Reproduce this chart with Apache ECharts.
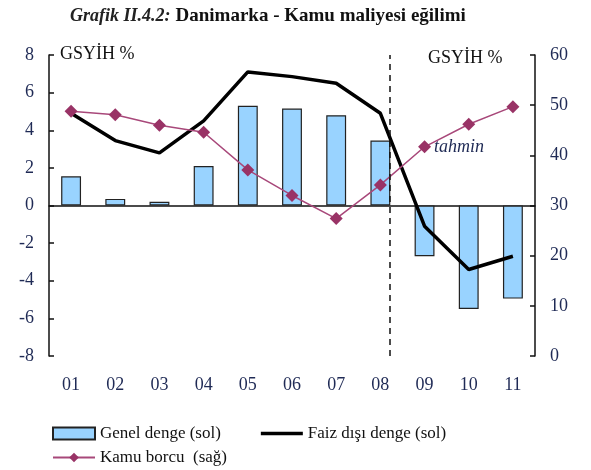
<!DOCTYPE html>
<html>
<head>
<meta charset="utf-8">
<script src="https://cdn.jsdelivr.net/npm/echarts@6/dist/echarts.min.js"></script>
<style>
  html, body { margin: 0; padding: 0; background: #fff; }
  #chart { width: 591px; height: 470px; }
</style>
</head>
<body>
<div id="chart"></div>
<script>
// veriler
const years = ['01', '02', '03', '04', '05', '06', '07', '08', '09', '10', '11'];
const genelDenge = [1.55, 0.35, 0.2, 2.1, 5.3, 5.15, 4.8, 3.45, -2.7, -5.5, -4.95];
const faizDisiDenge = [4.9, 3.45, 2.8, 4.5, 7.1, 6.85, 6.5, 4.9, -1.1, -3.4, -2.7];
const kamuBorcu = [48.8, 48.1, 46.0, 44.6, 37.1, 32.0, 27.4, 34.1, 41.7, 46.2, 49.7];
const leftTicks = { min: -8, max: 8, interval: 2 };
const rightTicks = { min: 0, max: 60, interval: 10 };
const forecastStart = 7.72; // tahmin ayracı (kategori ekseninde)

const serif = 'Liberation Serif';
const labelColor = '#1f2a55';

const chart = echarts.init(document.getElementById('chart'));

const option = {
    animation: false,
    backgroundColor: '#fff',
    title: {
        left: 65,
        top: 2,
        text: '{i|Grafik II.4.2:} {b|Danimarka - Kamu maliyesi eğilimi}',
        textStyle: {
            rich: {
                i: { fontFamily: serif, fontStyle: 'italic', fontSize: 18, color: '#222' },
                b: { fontFamily: serif, fontWeight: 'bold', fontSize: 19, color: '#111' }
            }
        }
    },
    grid: { left: 49, right: 56, top: 55, bottom: 114 },
    legend: [{
        left: 47,
        top: 420,
        itemWidth: 42,
        itemHeight: 12,
        itemGap: 40,
        textStyle: { fontFamily: serif, fontSize: 17, color: '#111' },
        data: [
            { name: 'Genel denge (sol)', icon: 'rect' },
            { name: 'Faiz dışı denge (sol)', icon: 'path://M0,0 L42,0 L42,3.5 L0,3.5 Z' }
        ]
    }, {
        left: 47,
        top: 444,
        itemWidth: 42,
        itemHeight: 12,
        textStyle: { fontFamily: serif, fontSize: 17, color: '#111' },
        data: [{ name: 'Kamu borcu  (sağ)' }]
    }],
    xAxis: [{
        type: 'category',
        data: years,
        position: 'bottom',
        axisLine: { show: false, onZero: false },
        axisTick: { show: false },
        axisLabel: { fontFamily: serif, fontSize: 18, color: labelColor, margin: 20 }
    }, {
        type: 'category',
        data: years,
        position: 'bottom',
        axisLine: { onZero: true, onZeroAxisIndex: 0, lineStyle: { color: '#111', width: 1.5 } },
        axisTick: { inside: true, length: 6, lineStyle: { color: '#111', width: 1.5 } },
        axisLabel: { show: false }
    }, {
        type: 'value',
        min: 0,
        max: years.length,
        show: false
    }],
    yAxis: [{
        type: 'value',
        min: leftTicks.min,
        max: leftTicks.max,
        interval: leftTicks.interval,
        axisLine: { show: true, onZero: false, lineStyle: { color: '#111', width: 1.5 } },
        axisTick: { show: true, inside: true, length: 5, lineStyle: { color: '#111', width: 1.5 } },
        splitLine: { show: false },
        axisLabel: { fontFamily: serif, fontSize: 18, color: labelColor, margin: 15 }
    }, {
        type: 'value',
        position: 'right',
        min: rightTicks.min,
        max: rightTicks.max,
        interval: rightTicks.interval,
        axisLine: { show: true, onZero: false, lineStyle: { color: '#111', width: 1.5 } },
        axisTick: { show: true, inside: true, length: 5, lineStyle: { color: '#111', width: 1.5 } },
        splitLine: { show: false },
        axisLabel: { fontFamily: serif, fontSize: 18, color: labelColor, margin: 15 }
    }],
    series: [{
        name: 'Genel denge (sol)',
        type: 'bar',
        xAxisIndex: 0,
        yAxisIndex: 0,
        data: genelDenge,
        barWidth: '45%',
        itemStyle: { color: '#99d3ff', borderColor: '#222', borderWidth: 1.2 },
        z: 2
    }, {
        name: 'Faiz dışı denge (sol)',
        type: 'line',
        xAxisIndex: 0,
        yAxisIndex: 0,
        data: faizDisiDenge,
        symbol: 'none',
        lineStyle: { color: '#000', width: 3.5 },
        itemStyle: { color: '#000' },
        z: 3
    }, {
        name: 'Kamu borcu  (sağ)',
        type: 'line',
        xAxisIndex: 0,
        yAxisIndex: 1,
        data: kamuBorcu,
        symbol: 'diamond',
        symbolSize: 13,
        lineStyle: { color: '#a8487a', width: 1.5 },
        itemStyle: { color: '#993366' },
        z: 4
    }, {
        type: 'line',
        xAxisIndex: 2,
        yAxisIndex: 0,
        data: [],
        silent: true,
        markLine: {
            symbol: 'none',
            label: { show: false },
            lineStyle: { color: '#111', type: [6, 5], width: 1.5 },
            data: [{ xAxis: forecastStart }]
        }
    }],
    graphic: [{
        type: 'text',
        left: 60,
        top: 45,
        style: { text: 'GSYİH %', fontFamily: serif, fontSize: 18, fill: '#111' }
    }, {
        type: 'text',
        left: 428,
        top: 49,
        style: { text: 'GSYİH %', fontFamily: serif, fontSize: 18, fill: '#111' }
    }, {
        type: 'text',
        left: 434,
        top: 138,
        style: { text: 'tahmin', fontFamily: serif, fontStyle: 'italic', fontSize: 18, fill: '#1f2a55' }
    }]
};

chart.setOption(option);

window.addEventListener('resize', () => {
    chart.resize();
});
</script>
</body>
</html>
